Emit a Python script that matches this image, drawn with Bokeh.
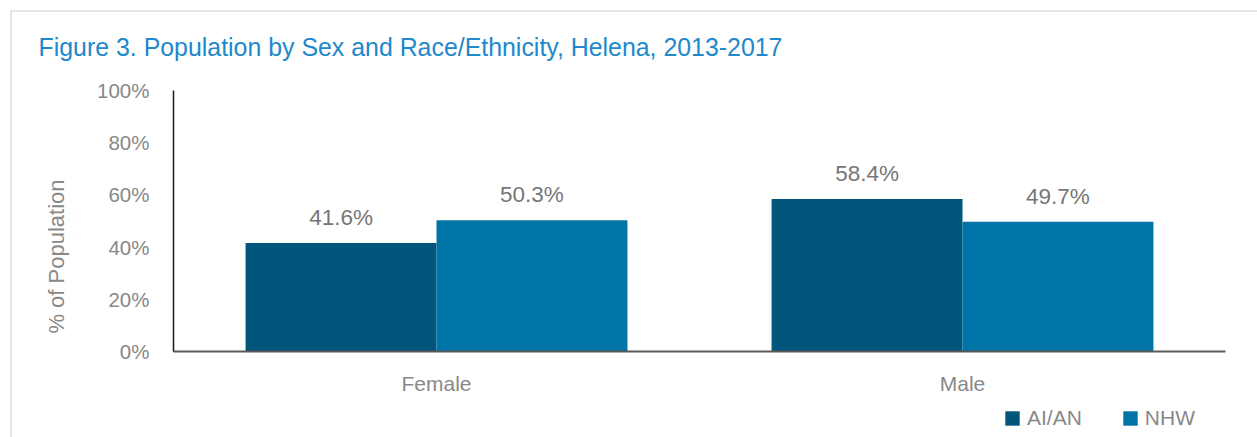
from math import pi
from bokeh.plotting import figure
from bokeh.models import (ColumnDataSource, Range1d, Legend, LegendItem, LabelSet, Label,
                          PrintfTickFormatter, FixedTicker)
from bokeh.core.properties import value
from bokeh.transform import dodge
from bokeh.embed import file_html
from bokeh.resources import INLINE

# ---- data ----
sexes = ["Female", "Male"]
aian = [41.6, 58.4]
nhw = [50.3, 49.7]
series_names = ["AI/AN", "NHW"]
y_ticks = [0, 20, 40, 60, 80, 100]
title_text = "Figure 3. Population by Sex and Race/Ethnicity, Helena, 2013-2017"
y_label = "% of Population"

# ---- styles ----
FONT = "Liberation Sans"
C_AIAN = "#03567B"
C_NHW = "#0073A7"
TITLE_C = "#2188CC"
GRAY = "#888888"
VAL_GRAY = "#767676"

W, H = 1257, 437
# plot-area geometry in pixels (axes box inside the canvas)
PX_L, PX_R, PX_T, PX_B = 173, 1225, 90, 351
ncat = len(sexes)
ux = (PX_R - PX_L) / ncat          # px per category
uy = (PX_B - PX_T) / 100.0         # px per percent

centers = [i + 0.5 for i in range(ncat)]
src = ColumnDataSource(dict(
    x=centers, aian=aian, nhw=nhw,
    aian_lbl=[f"{v:.1f}%" for v in aian],
    nhw_lbl=[f"{v:.1f}%" for v in nhw],
))

x_range = Range1d(-PX_L / ux, ncat + (W - PX_R) / ux)
y_range = Range1d(-(H - PX_B) / uy, 100 + PX_T / uy)

bg = ("linear-gradient(#e4e4e4,#e4e4e4) 10px 10px / 100% 2px no-repeat, "
      "linear-gradient(#e4e4e4,#e4e4e4) 10px 10px / 2px 100% no-repeat, white")
p = figure(width=W, height=H, output_backend="svg", toolbar_location=None,
           x_range=x_range, y_range=y_range, min_border=0,
           styles={"background": bg})
p.outline_line_color = None
p.xgrid.grid_line_color = None
p.ygrid.grid_line_color = None
p.background_fill_color = None
p.border_fill_color = None

bw = 0.363
off = bw / 2
r1 = p.vbar(x=dodge("x", -off), top="aian", width=bw, source=src,
            fill_color=C_AIAN, line_color=None)
r2 = p.vbar(x=dodge("x", off), top="nhw", width=bw, source=src,
            fill_color=C_NHW, line_color=None)

for col, top, d in (("aian_lbl", "aian", -off), ("nhw_lbl", "nhw", off)):
    p.add_layout(LabelSet(x=dodge("x", d), y=top, text=col, source=src,
                          y_offset=18, text_align="center", text_baseline="alphabetic",
                          text_font=value(FONT), text_font_size=value("22.5px"),
                          text_color=value(VAL_GRAY)))

# axes, drawn at fixed positions inside the canvas
p.yaxis.fixed_location = 0
p.yaxis.bounds = (0, 100)
p.yaxis.ticker = FixedTicker(ticks=y_ticks)
p.yaxis.formatter = PrintfTickFormatter(format="%d%%")
p.yaxis.major_tick_line_color = None
p.yaxis.minor_tick_line_color = None
p.yaxis.major_tick_out = 0
p.yaxis.major_tick_in = 0
p.yaxis.major_label_standoff = 24
p.yaxis.axis_line_color = "#1a1a1a"
p.yaxis.axis_line_width = 1.5
p.yaxis.major_label_text_font = FONT
p.yaxis.major_label_text_font_size = "20.5px"
p.yaxis.major_label_text_color = GRAY

p.xaxis.fixed_location = 0
p.xaxis.bounds = (0, ncat)
p.xaxis.ticker = FixedTicker(ticks=centers)
p.xaxis.major_label_overrides = {c: s for c, s in zip(centers, sexes)}
p.xaxis.major_tick_line_color = None
p.xaxis.minor_tick_line_color = None
p.xaxis.major_tick_out = 0
p.xaxis.major_tick_in = 0
p.xaxis.major_label_standoff = 20
p.xaxis.axis_line_color = "#595959"
p.xaxis.axis_line_width = 2
p.xaxis.major_label_text_font = FONT
p.xaxis.major_label_text_font_size = "21px"
p.xaxis.major_label_text_color = GRAY

# title and y-axis label
p.add_layout(Label(x=(38 - PX_L) / ux, y=(PX_B - 46) / uy, text=title_text,
                   text_font=FONT, text_font_size="24.9px", text_color=TITLE_C,
                   text_align="left", text_baseline="alphabetic"))
p.add_layout(Label(x=(56 - PX_L) / ux, y=(PX_B - 256) / uy, text=y_label, angle=pi / 2,
                   text_font=FONT, text_font_size="22px", text_color=GRAY,
                   text_align="center", text_baseline="middle"))

# legend (location measured from the canvas' bottom-left corner)
legend = Legend(items=[LegendItem(label=series_names[0], renderers=[r1]),
                       LegendItem(label=series_names[1], renderers=[r2])],
                orientation="horizontal", location=(1003, H - 430),
                border_line_color=None, background_fill_alpha=0,
                glyph_width=18, glyph_height=18, label_standoff=6, spacing=39,
                padding=0, margin=0,
                label_text_font=FONT, label_text_font_size="21px",
                label_text_color=GRAY)
p.add_layout(legend)

open("out.html", "w").write(file_html(p, INLINE))
